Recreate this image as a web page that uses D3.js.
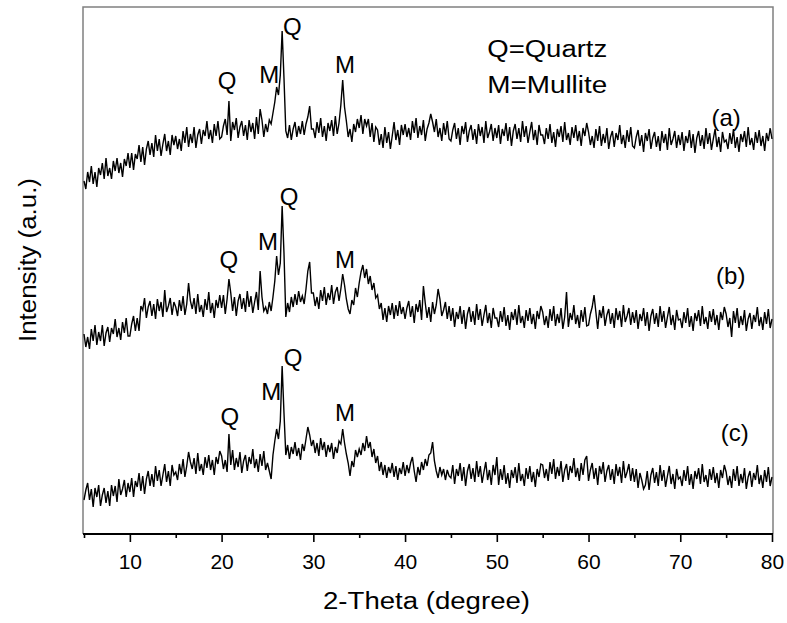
<!DOCTYPE html>
<html><head><meta charset="utf-8">
<script src="https://cdn.jsdelivr.net/npm/d3@7"></script>
<style>body{margin:0;background:#fff} text{font-family:"Liberation Sans",Arial,Helvetica,sans-serif;fill:#000}</style>
</head><body><svg id="c" width="787" height="623"></svg>
<script>
// Intensity (a.u., stacked as plotted), one value every 0.2 degree from 5 to 80
const seriesA = [
352,344,361,351,367,349,361,346,365,358,370,354,375,357,365,354,372,362,375,360,370,356,374,367,380,
365,380,363,379,374,388,371,386,368,384,392,378,390,376,398,382,394,377,389,399,382,392,378,398,388,
397,384,394,382,402,390,406,386,399,390,406,385,398,404,389,403,397,412,394,403,390,409,397,412,394,
396,407,414,398,432,392,411,403,415,395,406,412,397,408,393,413,401,410,394,416,399,424,413,396,409,
401,413,409,420,431,446,438,458,502,455,402,395,408,393,404,411,396,407,399,412,398,409,416,427,404,
404,395,411,400,415,396,407,392,410,402,413,397,417,399,410,428,453,426,412,396,404,391,409,401,414,
405,418,399,414,407,414,396,410,391,406,403,388,399,385,406,390,401,384,397,411,393,403,388,408,398,
409,396,405,393,412,400,415,395,407,398,413,392,404,410,419,411,401,414,396,405,392,410,398,412,394,
392,403,410,394,405,388,407,399,411,391,402,408,393,404,389,409,397,406,390,412,395,401,409,392,405,
395,408,389,404,397,410,392,406,387,402,409,394,405,391,412,396,407,390,401,411,393,403,388,408,398,
398,389,405,394,409,390,401,386,404,396,407,391,411,393,400,388,406,395,408,392,402,387,405,397,410,
401,388,397,385,404,392,407,387,399,390,405,384,396,402,386,400,393,408,389,398,385,403,391,406,387,
385,396,403,387,398,381,400,392,404,384,395,401,386,397,382,402,390,399,383,405,388,394,402,385,398,
388,401,382,397,390,403,385,399,380,395,402,387,398,384,405,389,400,383,394,404,386,396,381,401,391,
393,384,400,389,404,385,396,381,399,391,402,386,406,388,395,383,401,390,403,387,397,382,400,392,405,
394];
const seriesB = [
199,186,196,184,204,192,208,188,201,192,208,187,200,206,191,205,199,214,196,205,193,211,200,215,197,
197,209,217,202,215,202,227,223,235,215,226,232,217,229,214,234,222,231,216,243,221,227,235,218,231,
226,217,233,222,237,218,229,250,232,224,235,219,239,221,228,216,234,223,241,220,230,215,233,225,238,
225,238,219,234,254,240,222,236,217,232,239,224,235,221,242,226,237,220,231,241,223,262,236,222,226,
219,231,222,236,252,277,258,270,327,280,216,230,221,236,226,239,228,242,231,237,229,244,262,271,240,
240,227,236,224,243,232,246,228,240,233,248,229,241,246,232,244,259,248,234,224,219,233,228,245,236,
250,261,268,255,264,249,257,243,250,235,238,224,230,213,225,211,227,218,230,214,228,217,232,219,226,
214,225,232,216,227,210,229,221,233,213,247,230,215,226,211,231,219,228,244,234,217,223,231,214,227,
212,225,206,221,214,227,209,223,204,219,226,211,222,208,229,213,224,207,218,228,210,220,205,225,215,
215,206,222,211,226,207,218,203,221,213,224,208,228,210,217,205,223,212,225,209,219,204,222,214,227,
221,208,217,205,224,212,227,207,219,210,225,204,216,241,206,220,213,228,209,218,205,223,211,226,207,
208,219,226,238,221,204,223,215,227,207,218,224,209,220,205,225,213,222,206,228,211,217,225,208,221,
210,223,204,219,212,225,207,221,202,217,224,209,220,206,227,211,222,205,216,226,208,218,203,223,213,
214,205,221,210,225,206,217,202,220,212,223,207,227,209,216,204,222,211,224,208,218,203,221,213,226,
219,206,215,196,222,210,225,205,217,208,223,202,214,220,204,218,211,226,207,216,203,221,209,224,205,
214];
const seriesC = [
33,43,50,33,44,26,45,36,48,27,38,45,30,42,27,48,37,47,31,54,38,44,53,36,50,
41,55,36,52,46,60,42,57,39,54,62,47,59,46,67,52,63,47,58,69,51,62,47,68,58,
61,53,69,59,74,56,67,81,71,64,75,59,80,62,69,58,76,65,78,63,73,58,76,69,82,
77,64,73,61,99,68,83,63,75,66,81,60,72,78,62,76,69,84,65,74,61,79,67,82,63,
70,62,54,78,92,104,94,112,167,120,78,88,74,86,79,91,77,85,73,89,82,94,106,98,87,
93,80,90,77,95,83,91,76,88,81,90,74,86,80,92,89,104,90,79,70,57,72,66,83,76,
84,78,90,82,97,85,91,76,84,70,77,62,71,58,68,55,66,60,70,56,67,53,65,59,71,
57,68,60,70,76,62,51,66,58,71,63,74,67,78,80,91,72,62,55,66,58,64,53,63,57,
55,68,49,64,57,70,52,66,47,62,69,54,65,51,72,56,67,50,61,71,53,63,48,68,58,
76,48,64,53,68,49,60,45,63,55,66,50,70,52,59,47,65,54,67,51,61,46,64,56,69,
68,55,64,52,71,59,74,54,66,57,72,51,63,69,53,67,60,75,56,65,52,70,58,73,77,
52,63,70,54,65,48,67,59,71,51,62,68,53,64,49,69,57,66,50,72,55,61,69,52,65,
51,64,45,60,53,44,48,62,43,58,65,50,61,47,68,52,63,46,57,67,49,59,44,64,54,
56,47,63,52,67,48,59,44,62,54,65,49,69,51,58,46,64,53,66,50,60,45,63,55,68,
61,48,57,45,64,52,67,47,59,50,65,44,56,62,46,60,53,68,49,58,45,63,51,66,47,
56];
// 2-Theta positions of the samples (0.2 degree step)
const twoTheta = d3.range(seriesA.length).map(i => 5 + 0.2 * i);

const majorTicks = [10, 20, 30, 40, 50, 60, 70, 80];
const minorTicks = [5, 15, 25, 35, 45, 55, 65, 75];

// peak annotations: text, 2-theta, intensity
const peakText  = ["Q","M","Q","M", "Q","M","Q","M", "Q","M","Q","M"];
const peakTheta = [20.6,25.2,27.7,33.45, 20.8,25.05,27.35,33.45, 20.9,25.4,27.8,33.45];
const peakInt   = [444,450,498,460, 265,283,328,265, 108,133,167,112];
const sampleText  = ["(a)","(b)","(c)"];
const sampleTheta = [75.0,75.5,75.95];
const sampleInt   = [407,249,92];
const legendText  = ["Q=Quartz","M=Mullite"];
const legendTheta = [55.5,55.5];
const legendInt   = [476,440];

const svg = d3.select("#c");
const L = 83, R = 773, T = 7, B = 534;
const x = d3.scaleLinear().domain([5, 80]).range([84, 772]);
const y = d3.scaleLinear().domain([0, 526]).range([533, 7]);

// frame (grey)
svg.append("path").attr("d", `M${L},${B}V${T}H${R}V${B}`)
  .attr("fill","none").attr("stroke","#808080").attr("stroke-width",1.5);

// traces
const line = d3.line().x((d,i)=>x(twoTheta[i])).y(d=>y(d));
[seriesA, seriesB, seriesC].forEach(s => {
  svg.append("path").datum(s).attr("d", line)
    .attr("fill","none").attr("stroke","#000").attr("stroke-width",1.4)
    .attr("stroke-linejoin","miter");
});

// x axis
const gx = svg.append("g").attr("transform", `translate(0,${B})`);
gx.call(d3.axisBottom(x).tickValues(majorTicks).tickSize(8).tickPadding(12).tickFormat(d3.format("d")));
gx.select(".domain").remove();
gx.selectAll(".tick line").attr("stroke","#000").attr("stroke-width",1.6);
gx.selectAll(".tick text").attr("font-size",21).attr("font-family",'"Liberation Sans",Arial,sans-serif').attr("fill","#000");
const gm = svg.append("g").attr("transform", `translate(0,${B})`);
gm.call(d3.axisBottom(x).tickValues(minorTicks).tickSize(4).tickFormat(""));
gm.select(".domain").remove();
gm.selectAll(".tick line").attr("stroke","#000").attr("stroke-width",1.6);
svg.append("line").attr("x1",L).attr("x2",R).attr("y1",B).attr("y2",B)
  .attr("stroke","#000").attr("stroke-width",2);

// axis titles
svg.append("text").attr("x",426.5).attr("y",609).attr("text-anchor","middle")
  .attr("font-size",23).attr("textLength",207).attr("lengthAdjust","spacingAndGlyphs")
  .text("2-Theta (degree)");
svg.append("text").attr("transform","translate(36,260) rotate(-90)").attr("text-anchor","middle")
  .attr("font-size",23).attr("textLength",164).attr("lengthAdjust","spacingAndGlyphs")
  .text("Intensity (a.u.)");

// annotations
peakText.forEach((t,i)=>{
  svg.append("text").attr("x",x(peakTheta[i])).attr("y",y(peakInt[i])).attr("text-anchor","middle")
    .attr("font-size",24).text(t);
});
sampleText.forEach((t,i)=>{
  svg.append("text").attr("x",x(sampleTheta[i])).attr("y",y(sampleInt[i])).attr("text-anchor","middle")
    .attr("font-size",24).text(t);
});
legendText.forEach((t,i)=>{
  svg.append("text").attr("x",x(legendTheta[i])).attr("y",y(legendInt[i])).attr("text-anchor","middle")
    .attr("font-size",23).attr("textLength",120).attr("lengthAdjust","spacingAndGlyphs").text(t);
});
</script></body></html>
